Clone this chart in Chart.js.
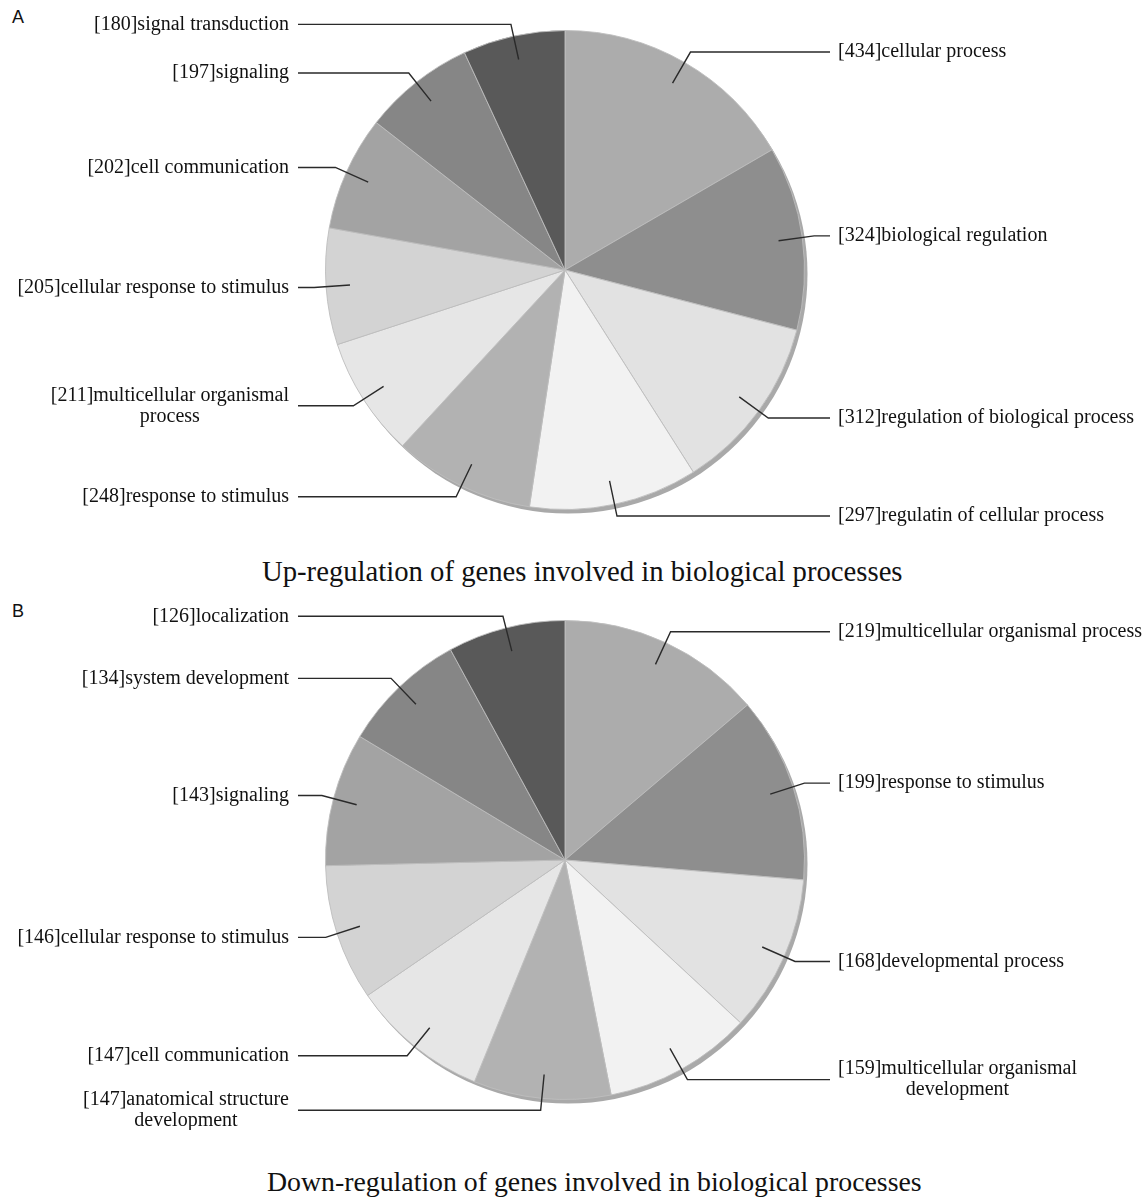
<!DOCTYPE html>
<html>
<head>
<meta charset="utf-8">
<script src="https://cdn.jsdelivr.net/npm/chart.js@4/dist/chart.umd.min.js"></script>
<style>
  body { margin: 0; background: #fff; }
  #page { position: relative; width: 1148px; height: 1197px; overflow: hidden; }
  canvas { position: absolute; left: 0; }
  .panel { position: absolute; left: 12px; font: 18px "Liberation Sans", Arial, sans-serif; color: #111; line-height: 1; }
  .title { position: absolute; font-family: "Liberation Serif", "Times New Roman", serif; color: #111; line-height: 1; white-space: nowrap; }
</style>
</head>
<body>
<div id="page">
  <div class="panel" style="top:8px">A</div>
  <canvas id="chartUp" width="1148" height="540" style="top:0"></canvas>
  <div class="title" style="top:557px; left:262px; font-size:28.7px">Up-regulation of genes involved in biological processes</div>

  <div class="panel" style="top:602px">B</div>
  <canvas id="chartDown" width="1148" height="540" style="top:590px"></canvas>
  <div class="title" style="top:1168px; left:267px; font-size:27.8px">Down-regulation of genes involved in biological processes</div>
</div>

<script>
// --- DATA ---
const upNames = ['cellular process', 'biological regulation', 'regulation of biological process',
    'regulatin of cellular process', 'response to stimulus', ['multicellular organismal', 'process'],
    'cellular response to stimulus', 'cell communication', 'signaling', 'signal transduction'];
const upValues = [434, 324, 312, 297, 248, 211, 205, 202, 197, 180];

const downNames = ['multicellular organismal process', 'response to stimulus', 'developmental process',
    ['multicellular organismal', 'development'], ['anatomical structure', 'development'],
    'cell communication', 'cellular response to stimulus', 'signaling', 'system development', 'localization'];
const downValues = [219, 199, 168, 159, 147, 147, 146, 143, 134, 126];

const sliceColors = ['#acacac', '#8e8e8e', '#e2e2e2', '#f2f2f2', '#b2b2b2',
    '#e6e6e6', '#d3d3d3', '#a3a3a3', '#868686', '#595959'];

// --- LABEL COLUMN LAYOUT ---
const rightTextX = 838;
const rightLineEnd = 830;
const leftTextX = 289;
const leftLineEnd = 298;
const labelFont = '20px "Liberation Serif", "Times New Roman", serif';
const lineHeight = 21;

// grey rim under the pie
const pieShadow = {
    id: 'pieShadow',
    beforeDatasetsDraw(chart) {
        const arc = chart.getDatasetMeta(0).data[0];
        if (!arc) return;
        const { x, y, outerRadius } = arc.getProps(['x', 'y', 'outerRadius'], true);
        const ctx = chart.ctx;
        ctx.save();
        ctx.fillStyle = '#a9a9a9';
        ctx.beginPath();
        ctx.arc(x + 3, y + 4, outerRadius, 0, Math.PI * 2);
        ctx.fill();
        ctx.restore();
    }
};

// leader lines + labels
const leaderLabels = {
    id: 'leaderLabels',
    afterDatasetsDraw(chart) {
        const ctx = chart.ctx;
        const values = chart.data.datasets[0].data;
        ctx.save();
        ctx.font = labelFont;
        ctx.fillStyle = '#111';
        ctx.strokeStyle = '#2a2a2a';
        ctx.lineWidth = 1.4;
        ctx.textBaseline = 'middle';

        chart.getDatasetMeta(0).data.forEach((arc, i) => {
            const p = arc.getProps(['x', 'y', 'startAngle', 'endAngle', 'outerRadius'], true);
            const mid = (p.startAngle + p.endAngle) / 2;
            const cos = Math.cos(mid), sin = Math.sin(mid);
            const x0 = p.x + cos * p.outerRadius * 0.9;
            const y0 = p.y + sin * p.outerRadius * 0.9;
            const x1 = p.x + cos * p.outerRadius * 1.05;
            const y1 = p.y + sin * p.outerRadius * 1.05;
            const right = cos > 0;

            ctx.beginPath();
            ctx.moveTo(x0, y0);
            ctx.lineTo(x1, y1);
            ctx.lineTo(right ? rightLineEnd : leftLineEnd, y1);
            ctx.stroke();

            const name = chart.data.labels[i];
            const lines = Array.isArray(name) ? name.slice() : [name];
            lines[0] = '[' + values[i] + ']' + lines[0];
            const blockW = Math.max(...lines.map(l => ctx.measureText(l).width));
            const cx = right ? rightTextX + blockW / 2 : leftTextX - blockW / 2;
            ctx.textAlign = 'center';
            lines.forEach((l, k) => {
                const ly = y1 + (k - (lines.length - 1) / 2) * lineHeight;
                ctx.fillText(l, cx, ly);
            });
        });
        ctx.restore();
    }
};

function makePie(id, names, values) {
    const ctx = document.getElementById(id).getContext('2d');
    return new Chart(ctx, {
        type: 'pie',
        data: {
            labels: names,
            datasets: [{
                data: values,
                backgroundColor: sliceColors,
                borderColor: 'rgba(190,190,190,0.9)',
                borderWidth: 1
            }]
        },
        options: {
            responsive: false,
            animation: false,
            layout: { padding: { left: 325, right: 343, top: 30, bottom: 30 } },
            plugins: { legend: { display: false }, tooltip: { enabled: false } }
        },
        plugins: [pieShadow, leaderLabels]
    });
}

makePie('chartUp', upNames, upValues);
makePie('chartDown', downNames, downValues);
</script>
</body>
</html>
